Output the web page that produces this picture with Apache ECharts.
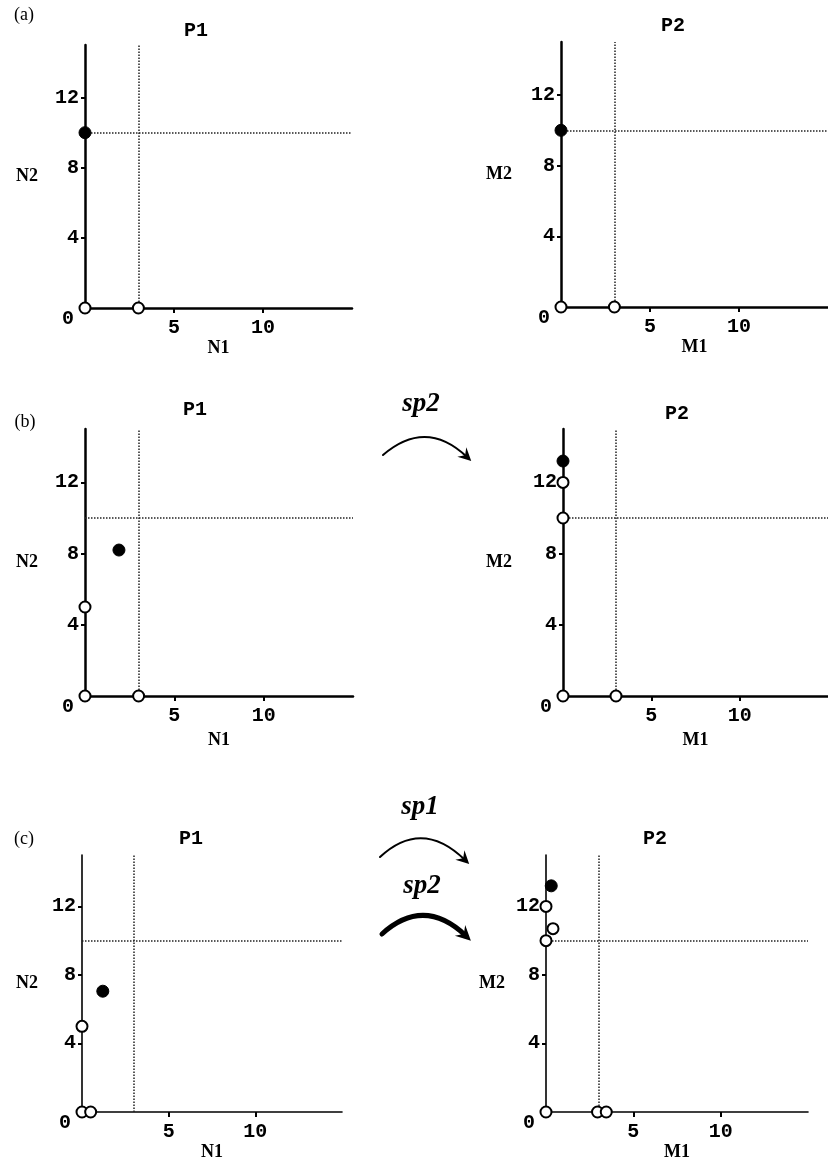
<!DOCTYPE html>
<html>
<head>
<meta charset="utf-8">
<script src="https://cdn.jsdelivr.net/npm/echarts@6/dist/echarts.min.js"></script>
<style>
  html, body { margin: 0; padding: 0; background: #fff; }
  #chart { width: 828px; height: 1162px; }
</style>
</head>
<body>
<div id="chart"></div>
<script>
// Phase-plane panels: abundance of two species (N1, N2 / M1, M2) in patches P1 and P2.
const axisMax = 15;
const xTickValues = [5, 10];
const yTickValues = [4, 8, 12];
const yLabelValues = [0, 4, 8, 12];

// Threshold lines
const thresholdX = 3;
const thresholdY = 10;

// (a)
const aP1Open = [[0, 0], [3, 0]];
const aP1Filled = [[0, 10]];
const aP2Open = [[0, 0], [3, 0]];
const aP2Filled = [[0, 10]];
// (b)
const bP1Open = [[0, 0], [3, 0], [0, 5]];
const bP1Filled = [[1.9, 8.2]];
const bP2Open = [[0, 0], [3, 0], [0, 10], [0, 12]];
const bP2Filled = [[0, 13.2]];
// (c)
const cP1Open = [[0, 0], [0.5, 0], [0, 5]];
const cP1Filled = [[1.2, 7.05]];
const cP2Open = [[0, 0], [2.95, 0], [3.45, 0], [0, 10], [0, 12], [0.4, 10.7]];
const cP2Filled = [[0.3, 13.2]];

const panelTitles = ['P1', 'P2', 'P1', 'P2', 'P1', 'P2'];
const xNames = ['N1', 'M1', 'N1', 'M1', 'N1', 'M1'];
const yNames = ['N2', 'M2', 'N2', 'M2', 'N2', 'M2'];
const openSets = [aP1Open, aP2Open, bP1Open, bP2Open, cP1Open, cP2Open];
const filledSets = [aP1Filled, aP2Filled, bP1Filled, bP2Filled, cP1Filled, cP2Filled];

// layout of the six plotting areas
const grids = [
  { left: 85, top: 45, width: 267, height: 263 },
  { left: 561, top: 42, width: 267, height: 265 },
  { left: 85, top: 429, width: 268, height: 267 },
  { left: 563, top: 429, width: 265, height: 267 },
  { left: 82, top: 855, width: 260, height: 259 },
  { left: 546, top: 855, width: 262, height: 259 }
];
const axisWidths = [2.5, 2.5, 2.5, 2.5, 1.6, 1.6];
const titlePos = [[191, 16], [668, 11], [190, 395], [672, 399], [186, 824], [650, 824]];
const yNameGap = [47, 49, 47, 51, 44, 41];
const xNameGap = [26, 26, 35, 35, 31, 31];

const monoFont = '"Liberation Mono", "DejaVu Sans Mono", monospace';
const serifFont = '"Liberation Serif", "DejaVu Serif", serif';

const xAxes = grids.map((g, i) => ({
  type: 'value', gridIndex: i, min: 0, max: axisMax, interval: 5,
  splitLine: { show: false },
  axisLine: { onZero: false, lineStyle: { color: '#000', width: axisWidths[i] } },
  axisTick: { show: true, length: 5, customValues: xTickValues, lineStyle: { color: '#000', width: 2 } },
  axisLabel: { customValues: xTickValues, margin: 10, color: '#000', fontFamily: monoFont, fontWeight: 'bold', fontSize: 20 },
  name: xNames[i], nameLocation: 'middle', nameGap: xNameGap[i],
  nameTextStyle: { fontFamily: serifFont, fontWeight: 'bold', fontSize: 18, color: '#000', verticalAlign: 'top' }
}));

const yAxes = grids.map((g, i) => ({
  type: 'value', gridIndex: i, min: 0, max: axisMax, interval: 4,
  splitLine: { show: false },
  axisLine: { onZero: false, lineStyle: { color: '#000', width: axisWidths[i] } },
  axisTick: { show: true, length: 4, customValues: yTickValues, lineStyle: { color: '#000', width: 2 } },
  axisLabel: {
    customValues: yLabelValues, margin: 6, color: '#000',
    fontFamily: monoFont, fontWeight: 'bold', fontSize: 20,
    formatter: v => (v === 0 ? '{z|0}' : String(v)),
    rich: { z: { padding: [22, 5, 0, 0], fontFamily: monoFont, fontWeight: 'bold', fontSize: 20, color: '#000' } }
  },
  name: yNames[i], nameLocation: 'middle', nameGap: yNameGap[i], nameRotate: 0,
  nameTextStyle: { fontFamily: serifFont, fontWeight: 'bold', fontSize: 18, color: '#000', align: 'right', padding: [10, 0, 0, 0] }
}));

const series = [];
grids.forEach((g, i) => {
  // threshold lines, kept beneath the markers
  series.push({
    type: 'line', xAxisIndex: i, yAxisIndex: i, data: [], z: 1, silent: true,
    markLine: {
      z: 1, silent: true, symbol: ['none', 'none'], label: { show: false },
      lineStyle: { color: '#222', width: 1.5, type: [1.5, 1.5] },
      emphasis: { disabled: true },
      data: [{ xAxis: thresholdX }, { yAxis: thresholdY }]
    }
  });
  series.push({
    type: 'scatter', xAxisIndex: i, yAxisIndex: i, data: openSets[i], z: 3,
    symbol: 'circle', symbolSize: 11,
    itemStyle: { color: '#fff', borderColor: '#000', borderWidth: 2, opacity: 1 },
    emphasis: { disabled: true }
  });
  series.push({
    type: 'scatter', xAxisIndex: i, yAxisIndex: i, data: filledSets[i], z: 4,
    symbol: 'circle', symbolSize: 12,
    itemStyle: { color: '#000', borderColor: '#000', borderWidth: 1, opacity: 1 },
    emphasis: { disabled: true }
  });
});

const titles = panelTitles.map((t, i) => ({
  text: t, left: titlePos[i][0], top: titlePos[i][1], textAlign: 'center',
  textStyle: { fontFamily: monoFont, fontWeight: 'bold', fontSize: 20, color: '#000' }
}));

// curved transfer arrows between patches
function arrow(x1, y1, cx, cy, x2, y2, w, head) {
  let dx = x2 - cx, dy = y2 - cy;
  const len = Math.hypot(dx, dy);
  dx /= len; dy /= len;
  const nx = -dy, ny = dx;
  const tip = [x2 + dx * head * 0.45, y2 + dy * head * 0.45];
  const base = [x2 - dx * head * 0.55, y2 - dy * head * 0.55];
  const hw = head * 0.5;
  return [
    { type: 'bezierCurve', shape: { x1, y1, cpx1: cx, cpy1: cy, x2, y2 },
      style: { stroke: '#000', lineWidth: w, fill: null, lineCap: 'round' } },
    { type: 'polygon', shape: { points: [tip, [base[0] + nx * hw, base[1] + ny * hw], [x2 - dx * head * 0.2, y2 - dy * head * 0.2], [base[0] - nx * hw, base[1] - ny * hw]] },
      style: { fill: '#000' } }
  ];
}

function label(text, x, y, font) {
  return { type: 'text', x, y, style: { text, font, fill: '#000', align: 'center', verticalAlign: 'middle', textAlign: 'center', textVerticalAlign: 'middle' } };
}

const graphics = [
  label('(a)', 24, 15, '18px ' + serifFont),
  label('(b)', 25, 422, '18px ' + serifFont),
  label('(c)', 24, 839, '18px ' + serifFont),
  label('sp2', 421, 404, 'italic bold 27px ' + serifFont),
  label('sp1', 420, 807, 'italic bold 27px ' + serifFont),
  label('sp2', 422, 886, 'italic bold 27px ' + serifFont),
  ...arrow(383, 455, 426, 418, 467, 457, 2, 13),
  ...arrow(380, 857, 422, 818, 465, 860, 2, 13),
  ...arrow(382, 934, 424, 896, 466, 936, 5, 15)
];

const chart = echarts.init(document.getElementById('chart'), null, { renderer: 'canvas' });
chart.setOption({
  animation: false,
  backgroundColor: '#fff',
  title: titles,
  grid: grids,
  xAxis: xAxes,
  yAxis: yAxes,
  series,
  graphic: graphics
});
</script>
</body>
</html>
